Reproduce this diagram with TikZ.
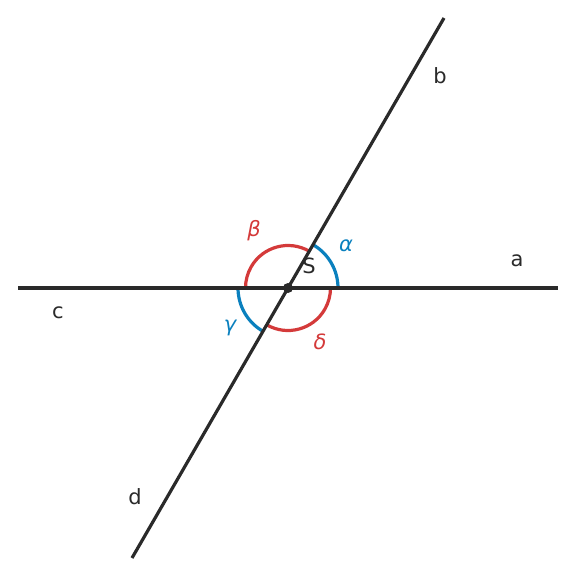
\documentclass[tikz,border=0pt]{standalone}
\usepackage{fontspec}
\setmainfont{DejaVu Sans}
\definecolor{ink}{HTML}{2A2A2A}
\definecolor{angblue}{HTML}{0A80BE}
\definecolor{angred}{HTML}{D43A3A}
\begin{document}
\begin{tikzpicture}[x=1pt,y=-1pt,
  lineseg/.style={draw=ink,line width=3.2pt},
  arcblue/.style={draw=angblue,line width=3.2pt},
  arcred/.style={draw=angred,line width=3.2pt},
  lbl/.style={text=ink,font=\fontsize{21}{24}\selectfont,inner sep=0pt},
  glbl/.style={font=\fontsize{21}{24}\selectfont\itshape,inner sep=0pt}]
\useasboundingbox (0,0) rectangle (576,576);
\coordinate (S) at (288,288);
\coordinate (A) at (558,288);
\coordinate (C) at (18,288);
\coordinate (B) at (444,18);
\coordinate (D) at (132,558);
% arcs (y axis points down, so angles are mirrored)
\draw[arcblue] ([shift={(0:50)}]S) arc[start angle=0,end angle=-60,radius=50];
\draw[arcred]  ([shift={(-60:42.5)}]S) arc[start angle=-60,end angle=-180,radius=42.5];
\draw[arcblue] ([shift={(-180:50)}]S) arc[start angle=-180,end angle=-240,radius=50];
\draw[arcred]  ([shift={(-240:42.5)}]S) arc[start angle=-240,end angle=-360,radius=42.5];
\draw[lineseg] (C) -- (A);
\draw[lineseg] (D) -- (B);
\fill[ink] (S) circle[radius=5];
\node[lbl] (lS) at (309,266) {S};
\node[lbl] (la) at (517,261) {a};
\node[lbl] (lb) at (440,76) {b};
\node[lbl] (lc) at (58,313) {c};
\node[lbl] (ld) at (135,497) {d};
\node[glbl,text=angblue] (lal) at (346,246) {α};
\node[glbl,text=angred] (lbe) at (254,231) {β};
\node[glbl,text=angblue] (lga) at (230,328) {γ};
\node[glbl,text=angred] (lde) at (320,342) {δ};
\end{tikzpicture}
\end{document}
